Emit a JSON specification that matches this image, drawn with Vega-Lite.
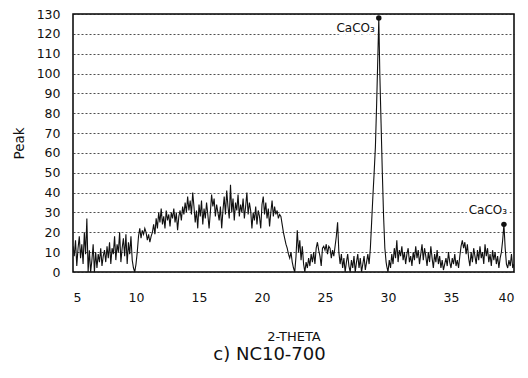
{
  "$schema": "https://vega.github.io/schema/vega-lite/v6.json",
  "width": 441,
  "height": 258,
  "autosize": {"type": "none"},
  "padding": {"left": 73, "top": 14, "right": 14, "bottom": 106},
  "background": "white",
  "config": {
    "font": "DejaVu Sans",
    "view": {"stroke": "black", "strokeWidth": 1.5},
    "axis": {"labelColor": "#111", "titleColor": "#111", "labelFont": "DejaVu Sans", "titleFont": "DejaVu Sans", "titleFontWeight": "normal", "labelOverlap": false}
  },
  "title": {"text": "c) NC10-700", "orient": "bottom", "anchor": "middle", "fontSize": 18, "fontWeight": "normal", "font": "DejaVu Sans", "color": "#111", "offset": 2, "dx": -24},
  "datasets": {
    "xrd": [
      {"t":5.0,"p":13},{"t":5.1,"p":8},{"t":5.2,"p":16},{"t":5.3,"p":3},{"t":5.4,"p":12},{"t":5.5,"p":18},{"t":5.6,"p":7},{"t":5.7,"p":14},{"t":5.8,"p":4},{"t":5.9,"p":20},
      {"t":6.0,"p":9},{"t":6.1,"p":27},{"t":6.2,"p":0},{"t":6.3,"p":11},{"t":6.4,"p":0},{"t":6.5,"p":6},{"t":6.6,"p":14},{"t":6.7,"p":0},{"t":6.8,"p":10},{"t":6.9,"p":2},
      {"t":7.0,"p":9},{"t":7.1,"p":5},{"t":7.2,"p":12},{"t":7.3,"p":3},{"t":7.4,"p":8},{"t":7.5,"p":11},{"t":7.6,"p":5},{"t":7.7,"p":13},{"t":7.8,"p":7},{"t":7.9,"p":15},
      {"t":8.0,"p":4},{"t":8.1,"p":12},{"t":8.2,"p":9},{"t":8.3,"p":18},{"t":8.4,"p":6},{"t":8.5,"p":14},{"t":8.6,"p":10},{"t":8.7,"p":20},{"t":8.8,"p":5},{"t":8.9,"p":12},
      {"t":9.0,"p":17},{"t":9.1,"p":8},{"t":9.2,"p":19},{"t":9.3,"p":4},{"t":9.4,"p":15},{"t":9.5,"p":9},{"t":9.6,"p":18},{"t":9.7,"p":6},{"t":9.8,"p":2},{"t":9.9,"p":0},
      {"t":10.0,"p":4},{"t":10.1,"p":10},{"t":10.2,"p":18},{"t":10.3,"p":22},{"t":10.4,"p":17},{"t":10.5,"p":21},{"t":10.6,"p":19},{"t":10.7,"p":22},{"t":10.8,"p":20},{"t":10.9,"p":16},
      {"t":11.0,"p":19},{"t":11.1,"p":15},{"t":11.2,"p":18},{"t":11.3,"p":20},{"t":11.4,"p":24},{"t":11.5,"p":19},{"t":11.6,"p":27},{"t":11.7,"p":22},{"t":11.8,"p":30},{"t":11.9,"p":25},
      {"t":12.0,"p":32},{"t":12.1,"p":24},{"t":12.2,"p":28},{"t":12.3,"p":22},{"t":12.4,"p":31},{"t":12.5,"p":26},{"t":12.6,"p":29},{"t":12.7,"p":23},{"t":12.8,"p":30},{"t":12.9,"p":27},
      {"t":13.0,"p":32},{"t":13.1,"p":25},{"t":13.2,"p":30},{"t":13.3,"p":21},{"t":13.4,"p":28},{"t":13.5,"p":31},{"t":13.6,"p":26},{"t":13.7,"p":33},{"t":13.8,"p":29},{"t":13.9,"p":35},
      {"t":14.0,"p":30},{"t":14.1,"p":38},{"t":14.2,"p":31},{"t":14.3,"p":36},{"t":14.4,"p":29},{"t":14.5,"p":40},{"t":14.6,"p":33},{"t":14.7,"p":25},{"t":14.8,"p":31},{"t":14.9,"p":22},
      {"t":15.0,"p":34},{"t":15.1,"p":28},{"t":15.2,"p":36},{"t":15.3,"p":24},{"t":15.4,"p":32},{"t":15.5,"p":27},{"t":15.6,"p":35},{"t":15.7,"p":29},{"t":15.8,"p":22},{"t":15.9,"p":30},
      {"t":16.0,"p":39},{"t":16.1,"p":33},{"t":16.2,"p":37},{"t":16.3,"p":28},{"t":16.4,"p":34},{"t":16.5,"p":30},{"t":16.6,"p":26},{"t":16.7,"p":33},{"t":16.8,"p":22},{"t":16.9,"p":31},
      {"t":17.0,"p":38},{"t":17.1,"p":29},{"t":17.2,"p":41},{"t":17.3,"p":33},{"t":17.4,"p":27},{"t":17.5,"p":44},{"t":17.6,"p":30},{"t":17.7,"p":37},{"t":17.8,"p":26},{"t":17.9,"p":35},
      {"t":18.0,"p":31},{"t":18.1,"p":39},{"t":18.2,"p":28},{"t":18.3,"p":34},{"t":18.4,"p":30},{"t":18.5,"p":37},{"t":18.6,"p":27},{"t":18.7,"p":33},{"t":18.8,"p":40},{"t":18.9,"p":29},
      {"t":19.0,"p":35},{"t":19.1,"p":31},{"t":19.2,"p":22},{"t":19.3,"p":30},{"t":19.4,"p":26},{"t":19.5,"p":33},{"t":19.6,"p":24},{"t":19.7,"p":31},{"t":19.8,"p":28},{"t":19.9,"p":22},
      {"t":20.0,"p":34},{"t":20.1,"p":38},{"t":20.2,"p":29},{"t":20.3,"p":35},{"t":20.4,"p":27},{"t":20.5,"p":32},{"t":20.6,"p":23},{"t":20.7,"p":30},{"t":20.8,"p":36},{"t":20.9,"p":28},
      {"t":21.0,"p":33},{"t":21.1,"p":29},{"t":21.2,"p":31},{"t":21.3,"p":27},{"t":21.4,"p":29},{"t":21.5,"p":28},{"t":21.6,"p":24},{"t":21.7,"p":20},{"t":21.8,"p":17},{"t":21.9,"p":14},
      {"t":22.0,"p":12},{"t":22.1,"p":9},{"t":22.2,"p":7},{"t":22.3,"p":10},{"t":22.4,"p":5},{"t":22.5,"p":2},{"t":22.6,"p":0},{"t":22.7,"p":8},{"t":22.8,"p":21},{"t":22.9,"p":10},
      {"t":23.0,"p":16},{"t":23.1,"p":6},{"t":23.2,"p":13},{"t":23.3,"p":4},{"t":23.4,"p":0},{"t":23.5,"p":5},{"t":23.6,"p":2},{"t":23.7,"p":7},{"t":23.8,"p":3},{"t":23.9,"p":9},
      {"t":24.0,"p":5},{"t":24.1,"p":10},{"t":24.2,"p":4},{"t":24.3,"p":12},{"t":24.4,"p":15},{"t":24.5,"p":11},{"t":24.6,"p":8},{"t":24.7,"p":3},{"t":24.8,"p":12},{"t":24.9,"p":13},
      {"t":25.0,"p":11},{"t":25.1,"p":14},{"t":25.2,"p":9},{"t":25.3,"p":13},{"t":25.4,"p":12},{"t":25.5,"p":7},{"t":25.6,"p":11},{"t":25.7,"p":8},{"t":25.8,"p":13},{"t":25.9,"p":18},
      {"t":26.0,"p":25},{"t":26.1,"p":10},{"t":26.2,"p":4},{"t":26.3,"p":9},{"t":26.4,"p":2},{"t":26.5,"p":7},{"t":26.6,"p":0},{"t":26.7,"p":5},{"t":26.8,"p":9},{"t":26.9,"p":3},
      {"t":27.0,"p":0},{"t":27.1,"p":6},{"t":27.2,"p":2},{"t":27.3,"p":8},{"t":27.4,"p":0},{"t":27.5,"p":5},{"t":27.6,"p":9},{"t":27.7,"p":2},{"t":27.8,"p":7},{"t":27.9,"p":0},
      {"t":28.0,"p":4},{"t":28.1,"p":8},{"t":28.2,"p":1},{"t":28.3,"p":5},{"t":28.4,"p":9},{"t":28.5,"p":4},{"t":28.6,"p":12},{"t":28.7,"p":25},{"t":28.8,"p":38},{"t":28.9,"p":50},
      {"t":29.0,"p":63},{"t":29.1,"p":85},{"t":29.2,"p":110},{"t":29.27,"p":128},{"t":29.35,"p":100},{"t":29.45,"p":75},{"t":29.55,"p":50},{"t":29.65,"p":28},{"t":29.75,"p":12},{"t":29.85,"p":5},
      {"t":29.9,"p":3},{"t":30.0,"p":0},{"t":30.1,"p":6},{"t":30.2,"p":2},{"t":30.3,"p":9},{"t":30.4,"p":4},{"t":30.5,"p":12},{"t":30.6,"p":7},{"t":30.7,"p":16},{"t":30.8,"p":5},
      {"t":30.9,"p":11},{"t":31.0,"p":8},{"t":31.1,"p":13},{"t":31.2,"p":6},{"t":31.3,"p":10},{"t":31.4,"p":4},{"t":31.5,"p":9},{"t":31.6,"p":12},{"t":31.7,"p":5},{"t":31.8,"p":8},
      {"t":31.9,"p":3},{"t":32.0,"p":10},{"t":32.1,"p":6},{"t":32.2,"p":13},{"t":32.3,"p":7},{"t":32.4,"p":11},{"t":32.5,"p":4},{"t":32.6,"p":9},{"t":32.7,"p":14},{"t":32.8,"p":6},
      {"t":32.9,"p":12},{"t":33.0,"p":8},{"t":33.1,"p":3},{"t":33.2,"p":10},{"t":33.3,"p":5},{"t":33.4,"p":13},{"t":33.5,"p":7},{"t":33.6,"p":2},{"t":33.7,"p":9},{"t":33.8,"p":5},
      {"t":33.9,"p":11},{"t":34.0,"p":4},{"t":34.1,"p":8},{"t":34.2,"p":2},{"t":34.3,"p":6},{"t":34.4,"p":1},{"t":34.5,"p":4},{"t":34.6,"p":7},{"t":34.7,"p":3},{"t":34.8,"p":10},
      {"t":34.9,"p":5},{"t":35.0,"p":2},{"t":35.1,"p":7},{"t":35.2,"p":4},{"t":35.3,"p":9},{"t":35.4,"p":3},{"t":35.5,"p":6},{"t":35.6,"p":2},{"t":35.7,"p":8},{"t":35.8,"p":13},
      {"t":35.9,"p":16},{"t":36.0,"p":12},{"t":36.1,"p":15},{"t":36.2,"p":9},{"t":36.3,"p":14},{"t":36.4,"p":7},{"t":36.5,"p":3},{"t":36.6,"p":10},{"t":36.7,"p":5},{"t":36.8,"p":12},
      {"t":36.9,"p":8},{"t":37.0,"p":4},{"t":37.1,"p":11},{"t":37.2,"p":6},{"t":37.3,"p":13},{"t":37.4,"p":7},{"t":37.5,"p":10},{"t":37.6,"p":4},{"t":37.7,"p":14},{"t":37.8,"p":8},
      {"t":37.9,"p":12},{"t":38.0,"p":5},{"t":38.1,"p":9},{"t":38.2,"p":3},{"t":38.3,"p":11},{"t":38.4,"p":6},{"t":38.5,"p":10},{"t":38.6,"p":4},{"t":38.7,"p":8},{"t":38.8,"p":2},
      {"t":38.9,"p":7},{"t":39.0,"p":10},{"t":39.1,"p":16},{"t":39.2,"p":24},{"t":39.3,"p":12},{"t":39.4,"p":4},{"t":39.5,"p":2},{"t":39.6,"p":6},{"t":39.7,"p":3},{"t":39.8,"p":9},
      {"t":39.9,"p":2},{"t":40.0,"p":4}
    ],
    "peaks": [
      {"t":29.27,"p":128},
      {"t":39.2,"p":24}
    ],
    "labels": [
      {"t":28.95,"p":123,"label":"CaCO₃"},
      {"t":39.45,"p":31,"label":"CaCO₃"}
    ]
  },
  "encoding": {
    "x": {"field": "t", "type": "quantitative", "scale": {"domain": [5, 40], "nice": false, "zero": false},
      "axis": {"values": [5,10,15,20,25,30,35,40], "tickCount": 20, "grid": false, "ticks": false, "domain": false, "labelFontSize": 12.5, "labelPadding": 19, "title": "2-THETA", "titleFontSize": 13, "titlePadding": 27}},
    "y": {"field": "p", "type": "quantitative", "scale": {"domain": [0, 130], "nice": false},
      "axis": {"values": [0,10,20,30,40,50,60,70,80,90,100,110,120,130], "tickCount": 30, "grid": true, "gridColor": "#222", "gridDash": [2, 2], "gridWidth": 0.8, "ticks": false, "domain": false, "labelFontSize": 12.5, "labelPadding": 13, "title": "Peak", "titleFontSize": 13.5, "titlePadding": 10}}
  },
  "layer": [
    {
      "data": {"name": "labels"},
      "mark": {"type": "text", "align": "right", "baseline": "middle", "fontSize": 12, "color": "white", "stroke": "white", "strokeWidth": 6, "font": "DejaVu Sans"},
      "encoding": {
        "text": {"field": "label"}
      }
    },
    {
      "data": {"name": "xrd"},
      "mark": {"type": "line", "color": "#111", "strokeWidth": 1.1, "clip": true}
    },
    {
      "data": {"name": "peaks"},
      "mark": {"type": "point", "filled": true, "color": "#111", "size": 30, "opacity": 1}
    },
    {
      "data": {"name": "labels"},
      "mark": {"type": "text", "align": "right", "baseline": "middle", "fontSize": 12, "color": "#111", "font": "DejaVu Sans"},
      "encoding": {
        "text": {"field": "label"}
      }
    }
  ]
}
